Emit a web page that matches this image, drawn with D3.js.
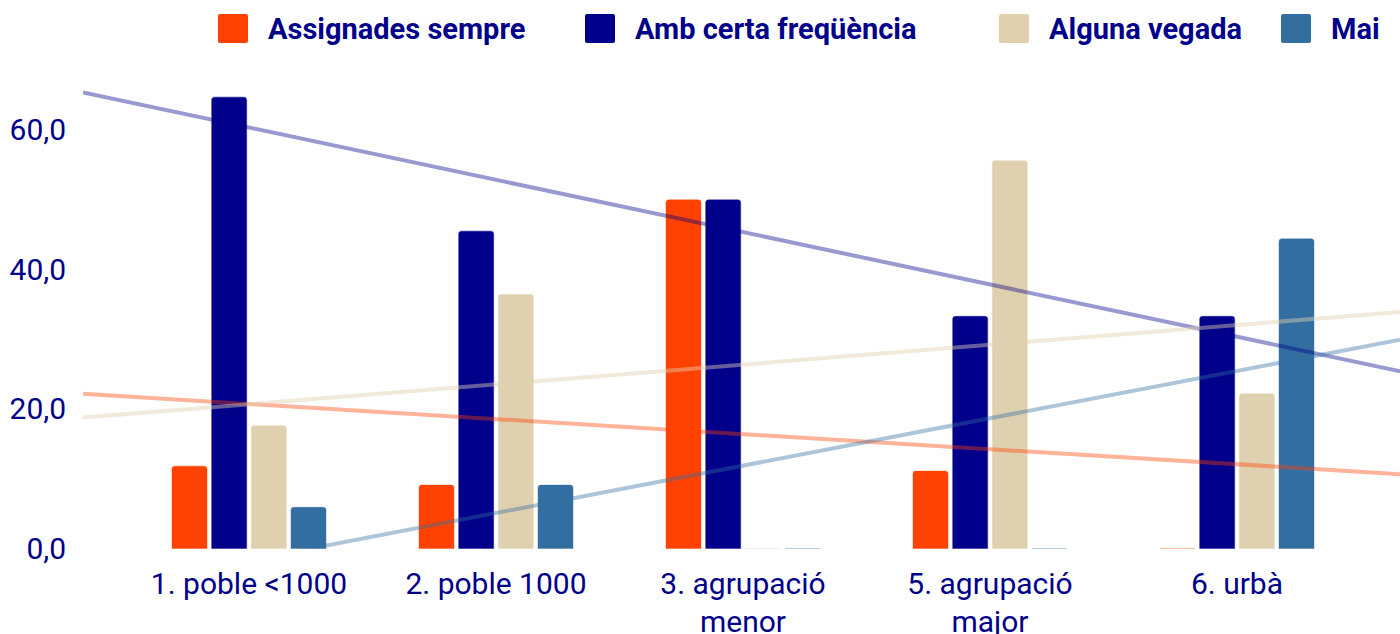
<!DOCTYPE html>
<html>
<head>
<meta charset="utf-8">
<script src="https://cdn.jsdelivr.net/npm/d3@7"></script>
<style>
  html, body { margin: 0; padding: 0; background: #ffffff; }
  svg { display: block; }
</style>
</head>
<body>
<svg id="chart" width="1400" height="634"></svg>
<script>
// ---- data ----
const categories = ["1. poble <1000", "2. poble 1000", "3. agrupació menor", "5. agrupació major", "6. urbà"];
const seriesNames = ["Assignades sempre", "Amb certa freqüència", "Alguna vegada", "Mai"];
const assignadesSempre = [11.8, 9.1, 50.0, 11.1, 0.0];
const ambCertaFrequencia = [64.7, 45.5, 50.0, 33.3, 33.3];
const algunaVegada = [17.6, 36.4, 0.0, 55.6, 22.2];
const mai = [5.9, 9.1, 0.0, 0.0, 44.4];
const yTicks = [0, 20, 40, 60];

// ---- styles / layout ----
const colors = ["#FF4201", "#00008B", "#DFD1AF", "#336EA1"];
const textColor = "#00008B";
const font = "Roboto, 'Noto Sans', sans-serif";
const legendX = [218, 585, 999, 1281];

const seriesValues = [assignadesSempre, ambCertaFrequencia, algunaVegada, mai];

const svg = d3.select("#chart");
const plotLeft = 83, plotRight = 1403;
const plotTop = 60.25, plotBottom = 548.5;

const x0 = d3.scaleBand().domain(categories).range([125.5, 1360.5]).paddingInner(0).paddingOuter(0);
const x1 = d3.scaleBand().domain(seriesNames).range([-77, 77]).paddingInner(0.118).paddingOuter(0);
const y = d3.scaleLinear().domain([0, 70]).range([plotBottom, plotTop]);
// continuous category scale for trend lines (category index 1..n)
const xc = d3.scaleLinear().domain([1, categories.length])
  .range([x0(categories[0]) + x0.bandwidth() / 2, x0(categories[categories.length - 1]) + x0.bandwidth() / 2]);

// ---- y axis labels ----
const fmt = v => d3.format(".1f")(v).replace(".", ",");
const yAxis = d3.axisLeft(y).tickValues(yTicks).tickFormat(fmt).tickSize(0).tickPadding(0);
const yg = svg.append("g").attr("transform", "translate(66,0)").call(yAxis);
yg.select(".domain").remove();
yg.selectAll("text").attr("fill", textColor).style("font-family", font).style("font-size", "30px");

// ---- x axis labels (wrapped) ----
const xAxis = d3.axisBottom(x0).tickSize(0).tickPadding(0);
const xg = svg.append("g").attr("transform", `translate(0,${plotBottom})`).call(xAxis);
xg.select(".domain").remove();
xg.selectAll("text")
  .attr("fill", textColor)
  .style("font-family", font).style("font-size", "30px")
  .attr("y", 45).attr("dy", null)
  .each(function(d) {
    const t = d3.select(this);
    const words = d.split(" ");
    t.text(null);
    let lines = [], cur = [];
    const probe = t.append("tspan");
    words.forEach(w => {
      cur.push(w);
      probe.text(cur.join(" "));
      if (probe.node().getComputedTextLength() > 225 && cur.length > 1) {
        cur.pop();
        lines.push(cur.join(" "));
        cur = [w];
      }
    });
    lines.push(cur.join(" "));
    probe.remove();
    lines.forEach((ln, i) => {
      t.append("tspan").attr("x", 0).attr("y", 45 + i * 38).text(ln);
    });
  });

// ---- bars ----
function barPath(x, w, v) {
  const y0 = y(0), yt = y(v), r = 3;
  const h = y0 - yt;
  if (h <= 0.5) return `M${x},${y0}H${x + w}`;
  const rr = Math.min(r, h);
  return `M${x},${y0}V${yt + rr}Q${x},${yt} ${x + rr},${yt}H${x + w - rr}Q${x + w},${yt} ${x + w},${yt + rr}V${y0}Z`;
}

const groups = svg.append("g").selectAll("g")
  .data(categories)
  .join("g")
  .attr("transform", d => `translate(${x0(d) + x0.bandwidth() / 2},0)`);

groups.selectAll("path")
  .data((d, ci) => seriesNames.map((s, si) => ({ s, si, v: seriesValues[si][ci] })))
  .join("path")
  .attr("d", d => barPath(x1(d.s), x1.bandwidth(), d.v))
  .attr("fill", d => colors[d.si])
  .attr("stroke", d => colors[d.si])
  .attr("stroke-opacity", 0.35)
  .attr("stroke-width", 1.2);

// ---- trend lines (linear regression over category index) ----
svg.append("defs").append("clipPath").attr("id", "plotclip")
  .append("rect").attr("x", plotLeft).attr("y", 0).attr("width", plotRight - plotLeft).attr("height", plotBottom);

const trendG = svg.append("g").attr("clip-path", "url(#plotclip)");
const cStart = xc.invert(plotLeft), cEnd = xc.invert(plotRight);
seriesValues.forEach((vals, si) => {
  const xs = vals.map((_, i) => i + 1);
  const mx = d3.mean(xs), my = d3.mean(vals);
  const slope = d3.sum(xs, (xv, i) => (xv - mx) * (vals[i] - my)) / d3.sum(xs, xv => (xv - mx) ** 2);
  const icpt = my - slope * mx;
  const pts = [cStart, cEnd].map(c => [xc(c), y(icpt + slope * c)]);
  trendG.append("path")
    .attr("d", d3.line()(pts))
    .attr("fill", "none")
    .attr("stroke", colors[si])
    .attr("stroke-opacity", si === 2 ? 0.45 : 0.4)
    .attr("stroke-width", 4);
});

// ---- legend ----
const lg = svg.append("g").selectAll("g")
  .data(seriesNames)
  .join("g")
  .attr("transform", (d, i) => `translate(${legendX[i]},14)`);
lg.append("rect").attr("width", 30).attr("height", 29).attr("rx", 2)
  .attr("fill", (d, i) => colors[i]);
lg.append("text")
  .attr("x", 50).attr("y", 15).attr("dy", "0.35em")
  .attr("fill", textColor)
  .style("font-family", font).style("font-size", "29px").style("font-weight", "bold")
  .text(d => d);
</script>
</body>
</html>
